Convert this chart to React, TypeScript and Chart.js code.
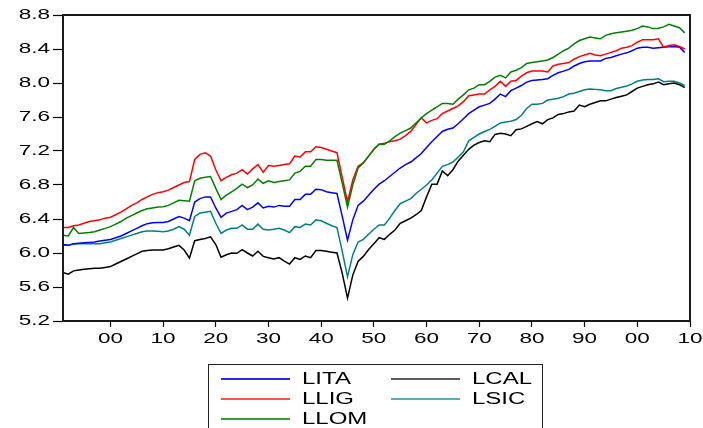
import React, { useEffect, useRef } from "react";
import { Chart, registerables } from "chart.js";

Chart.register(...registerables);

const FIRST_YEAR = 1891;
const X_MIN = 1891;
const X_MAX = 2010;
const X_TICKS = [1900, 1910, 1920, 1930, 1940, 1950, 1960, 1970, 1980, 1990, 2000, 2010];
const Y_MIN = 5.2;
const Y_MAX = 8.8;
const Y_STEP = 0.4;

const LITA = [
  6.10, 6.09, 6.11, 6.115, 6.12, 6.125, 6.13, 6.14, 6.15,
  6.16, 6.18, 6.20, 6.23, 6.26, 6.29, 6.32, 6.345, 6.355, 6.36,
  6.36, 6.37, 6.40, 6.43, 6.41, 6.38, 6.60, 6.64, 6.66, 6.66,
  6.53, 6.42, 6.47, 6.49, 6.51, 6.56, 6.51, 6.54, 6.59, 6.53,
  6.55, 6.54, 6.56, 6.55, 6.55, 6.63, 6.63, 6.69, 6.69, 6.75,
  6.745, 6.72, 6.71, 6.70, 6.43, 6.15, 6.39, 6.56, 6.61, 6.68,
  6.75, 6.81, 6.85, 6.90, 6.95, 7.00, 7.04, 7.07, 7.12, 7.17,
  7.24, 7.31, 7.37, 7.43, 7.455, 7.47, 7.52, 7.58, 7.64, 7.68,
  7.72, 7.74, 7.76, 7.81, 7.87, 7.84, 7.91, 7.94, 7.97, 8.01,
  8.03, 8.035, 8.04, 8.05, 8.09, 8.12, 8.14, 8.16, 8.20, 8.23,
  8.25, 8.26, 8.26, 8.26, 8.29, 8.30, 8.32, 8.34, 8.355, 8.38,
  8.41, 8.42, 8.42, 8.41, 8.415, 8.42, 8.425, 8.43, 8.42, 8.36,
];

const LCAL = [
  5.77, 5.75, 5.79, 5.80, 5.81, 5.815, 5.82, 5.82, 5.83,
  5.84, 5.87, 5.90, 5.93, 5.96, 5.99, 6.02, 6.03, 6.035, 6.035,
  6.035, 6.05, 6.07, 6.09, 6.035, 5.94, 6.145, 6.16, 6.17, 6.19,
  6.10, 5.95, 5.98, 6.00, 5.996, 6.04, 6.00, 5.965, 6.02, 5.96,
  5.945, 5.93, 5.945, 5.905, 5.87, 5.945, 5.925, 5.965, 5.945, 6.03,
  6.03, 6.02, 6.01, 6.00, 5.76, 5.47, 5.74, 5.90, 5.96, 6.04,
  6.11, 6.18, 6.16, 6.22, 6.27, 6.35, 6.38, 6.41, 6.45, 6.50,
  6.66, 6.81, 6.81, 6.965, 6.91, 6.98, 7.08, 7.15, 7.22, 7.27,
  7.30, 7.32, 7.31, 7.395, 7.41, 7.40, 7.38, 7.45, 7.46, 7.49,
  7.52, 7.545, 7.52, 7.57, 7.59, 7.63, 7.64, 7.66, 7.67, 7.74,
  7.72, 7.75, 7.77, 7.79, 7.79, 7.81, 7.83, 7.845, 7.86, 7.90,
  7.94, 7.96, 7.98, 7.99, 8.01, 7.98, 7.99, 8.00, 7.98, 7.945,
];

const LLIG = [
  6.30, 6.30, 6.32, 6.33, 6.35, 6.37, 6.38, 6.39, 6.41,
  6.42, 6.45, 6.48, 6.52, 6.56, 6.59, 6.63, 6.66, 6.69, 6.71,
  6.72, 6.74, 6.77, 6.80, 6.83, 6.84, 7.10, 7.16, 7.18, 7.14,
  6.98, 6.85, 6.89, 6.92, 6.94, 6.98, 6.93, 6.99, 7.04, 6.95,
  7.03, 7.02, 7.03, 7.04, 7.05, 7.14, 7.13, 7.19, 7.19, 7.25,
  7.24, 7.22, 7.20, 7.18, 6.89, 6.60, 6.86, 7.02, 7.06, 7.14,
  7.22, 7.28, 7.29, 7.31, 7.32, 7.34, 7.38, 7.43, 7.51, 7.59,
  7.53, 7.56, 7.58, 7.64, 7.67, 7.70, 7.73, 7.78, 7.85, 7.86,
  7.87, 7.87, 7.92, 7.96, 8.02, 7.96, 8.02, 8.03, 8.08, 8.12,
  8.14, 8.14, 8.14, 8.13, 8.20, 8.22, 8.23, 8.24, 8.28, 8.31,
  8.33, 8.35, 8.33, 8.32, 8.34, 8.36, 8.38, 8.41, 8.42, 8.44,
  8.48, 8.51, 8.51, 8.51, 8.52, 8.42, 8.44, 8.45, 8.43, 8.40,
];

const LSIC = [
  6.09, 6.09, 6.105, 6.11, 6.11, 6.11, 6.11, 6.11, 6.12,
  6.13, 6.15, 6.17, 6.19, 6.21, 6.23, 6.25, 6.26, 6.26, 6.255,
  6.25, 6.26, 6.28, 6.31, 6.28, 6.21, 6.43, 6.47, 6.48, 6.49,
  6.35, 6.23, 6.27, 6.29, 6.29, 6.33, 6.28, 6.28, 6.34, 6.28,
  6.27, 6.28, 6.29, 6.27, 6.24, 6.31, 6.30, 6.34, 6.33, 6.39,
  6.38, 6.35, 6.32, 6.30, 6.02, 5.72, 5.98, 6.13, 6.16, 6.22,
  6.28, 6.33, 6.33, 6.41, 6.50, 6.58, 6.61, 6.64, 6.70, 6.75,
  6.80, 6.86, 6.94, 7.02, 7.04, 7.07, 7.13, 7.19, 7.32, 7.36,
  7.40, 7.43, 7.455, 7.49, 7.53, 7.54, 7.55, 7.57, 7.62, 7.70,
  7.75, 7.75, 7.76, 7.80, 7.81, 7.82, 7.84, 7.87, 7.88, 7.90,
  7.92, 7.93, 7.925, 7.92, 7.91, 7.91, 7.935, 7.95, 7.965, 7.99,
  8.02, 8.035, 8.04, 8.04, 8.05, 8.015, 8.02, 8.02, 8.00, 7.97,
];

const LLOM = [
  6.21, 6.20, 6.30, 6.23, 6.235, 6.24, 6.25, 6.27, 6.29,
  6.31, 6.34, 6.37, 6.41, 6.44, 6.47, 6.50, 6.52, 6.53, 6.54,
  6.545, 6.56, 6.59, 6.62, 6.615, 6.61, 6.85, 6.88, 6.89, 6.90,
  6.76, 6.63, 6.68, 6.72, 6.76, 6.81, 6.77, 6.80, 6.87, 6.82,
  6.85, 6.83, 6.84, 6.85, 6.86, 6.94, 6.96, 7.02, 7.02, 7.10,
  7.10, 7.09, 7.09, 7.09, 6.82, 6.54, 6.80, 7.00, 7.06, 7.14,
  7.22, 7.28, 7.28, 7.32, 7.37, 7.41, 7.44, 7.47, 7.53, 7.59,
  7.64, 7.68, 7.72, 7.76, 7.76, 7.75, 7.81, 7.86, 7.92, 7.94,
  7.98, 7.98, 8.02, 8.07, 8.09, 8.06, 8.13, 8.15, 8.18, 8.23,
  8.24, 8.25, 8.26, 8.27, 8.30, 8.34, 8.38, 8.41, 8.46, 8.50,
  8.52, 8.54, 8.53, 8.52, 8.56, 8.58, 8.59, 8.60, 8.61, 8.62,
  8.64, 8.67, 8.66, 8.64, 8.645, 8.66, 8.69, 8.67, 8.65, 8.59,
];

const SERIES = [
  { name: "LITA", data: LITA, color: "#0000ff", order: 2 },
  { name: "LCAL", data: LCAL, color: "#000000", order: 2 },
  { name: "LLIG", data: LLIG, color: "#ff0000", order: 1 },
  { name: "LSIC", data: LSIC, color: "#008080", order: 2 },
  { name: "LLOM", data: LLOM, color: "#008000", order: 0 },
];

const TEXT_STRETCH = 1.5;
const FONT = "'Liberation Sans', Arial, sans-serif";

const framePlugin = {
  id: "frame",
  afterDraw(chart: any) {
    const { ctx, chartArea } = chart;
    ctx.save();
    ctx.strokeStyle = "#1a1a1a";
    ctx.lineWidth = 2;
    ctx.strokeRect(chartArea.left, chartArea.top, chartArea.right - chartArea.left, chartArea.bottom - chartArea.top);
    ctx.restore();
  },
};

const LEGEND_ITEMS = [
  { name: "LITA", color: "#0000ff", col: 0, row: 0 },
  { name: "LLIG", color: "#ff3030", col: 0, row: 1 },
  { name: "LLOM", color: "#1a8a1a", col: 0, row: 2 },
  { name: "LCAL", color: "#404040", col: 1, row: 0 },
  { name: "LSIC", color: "#40a0a0", col: 1, row: 1 },
];

export default function App() {
  const canvasRef = useRef<HTMLCanvasElement | null>(null);

  useEffect(() => {
    const canvas = canvasRef.current!;
    const ctx = canvas.getContext("2d")!;
    const origFill = ctx.fillText.bind(ctx);
    (ctx as any).fillText = (text: string, x: number, y: number) => {
      ctx.save();
      ctx.translate(x, y);
      ctx.scale(TEXT_STRETCH, 1);
      origFill(text, 0, 0);
      ctx.restore();
    };

    const chart = new Chart(canvas, {
      type: "line",
      data: {
        datasets: SERIES.map((s) => ({
          label: s.name,
          data: s.data.map((v, i) => ({ x: FIRST_YEAR + i, y: v })),
          borderColor: s.color,
          backgroundColor: s.color,
          borderWidth: 1.5,
          pointRadius: 0,
          tension: 0,
          fill: false,
          order: s.order,
        })),
      },
      options: {
        animation: false,
        responsive: false,
        events: [],
        layout: { padding: { left: 0, top: 15, right: 13, bottom: 0 } },
        plugins: { legend: { display: false }, tooltip: { enabled: false } },
        scales: {
          x: {
            type: "linear",
            min: X_MIN,
            max: X_MAX,
            afterBuildTicks: (scale: any) => {
              scale.ticks = X_TICKS.map((v) => ({ value: v }));
            },
            afterFit: (scale: any) => {
              scale.height = 107;
            },
            grid: { drawOnChartArea: false, drawTicks: true, tickLength: 6, tickColor: "#000", tickWidth: 1.2 },
            border: { display: false },
            ticks: {
              autoSkip: false,
              maxRotation: 0,
              padding: 3,
              color: "#000",
              font: { family: FONT, size: 15 },
              callback: (v: any) => String(Number(v) % 100).padStart(2, "0"),
            },
          },
          y: {
            type: "linear",
            min: Y_MIN,
            max: Y_MAX,
            afterFit: (scale: any) => {
              scale.width = 63;
            },
            grid: { drawOnChartArea: false, drawTicks: true, tickLength: 10, tickColor: "#000", tickWidth: 1.2 },
            border: { display: false },
            ticks: {
              stepSize: Y_STEP,
              padding: 3,
              color: "#000",
              font: { family: FONT, size: 15 },
              callback: (v: any) => Number(v).toFixed(1),
            },
          },
        },
      },
      plugins: [framePlugin],
    });

    return () => {
      chart.destroy();
    };
  }, []);

  return (
    <div style={{ position: "fixed", left: 0, top: 0, width: 703, height: 428, overflow: "hidden", background: "#fff" }}>
      <canvas ref={canvasRef} width={703} height={428} style={{ position: "absolute", left: 0, top: 0 }} />
      <div
        style={{
          position: "absolute",
          left: 208,
          top: 364,
          width: 335,
          height: 90,
          border: "1.5px solid #222",
          boxSizing: "border-box",
        }}
      >
        {LEGEND_ITEMS.map((it) => (
          <div
            key={it.name}
            style={{
              position: "absolute",
              left: it.col === 0 ? 12 : 182,
              top: 4 + it.row * 20,
              height: 20,
              width: 160,
            }}
          >
            <div style={{ position: "absolute", left: 0, top: 9, width: 69, height: 2, background: it.color, opacity: 0.85 }} />
            <span
              style={{
                position: "absolute",
                left: 81,
                top: 0,
                fontFamily: FONT,
                fontSize: 16,
                lineHeight: "20px",
                color: "#000",
                display: "inline-block",
                transform: `scaleX(${TEXT_STRETCH})`,
                transformOrigin: "left center",
                whiteSpace: "nowrap",
              }}
            >
              {it.name}
            </span>
          </div>
        ))}
      </div>
    </div>
  );
}
